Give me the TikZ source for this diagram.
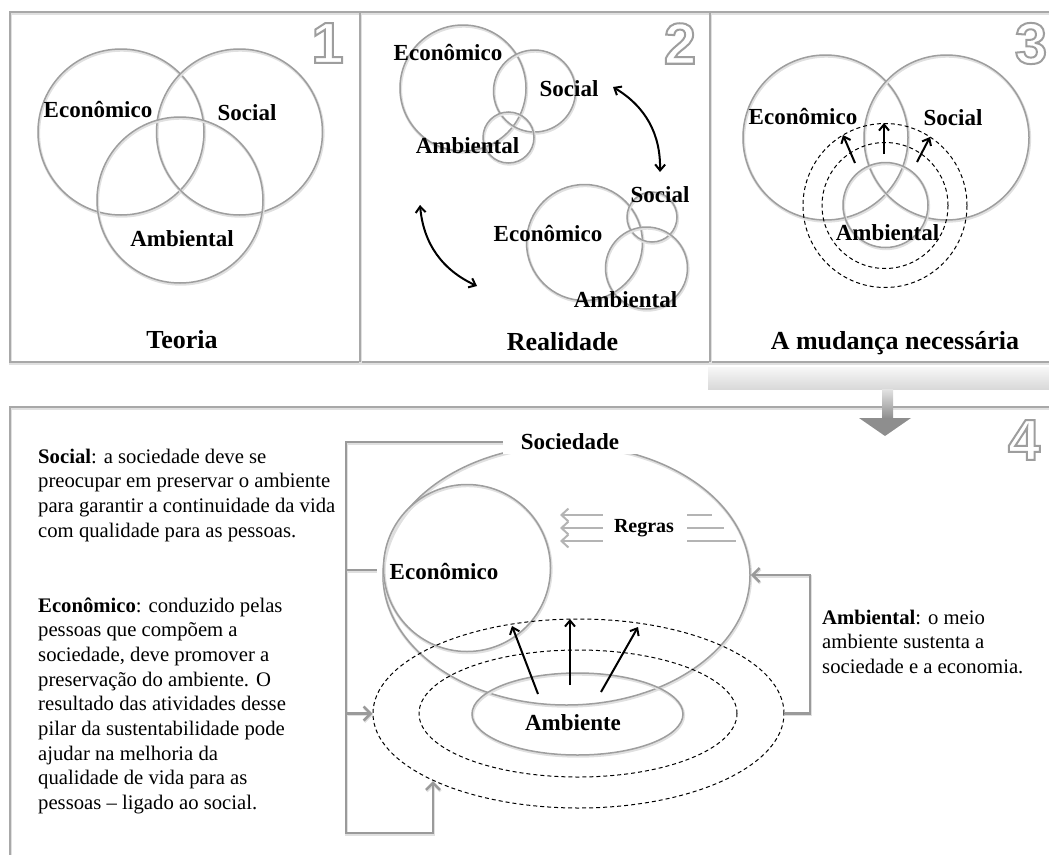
\documentclass[tikz,border=0pt]{standalone}
\usepackage{fontspec}
\setmainfont{Liberation Serif}
\newfontfamily\digitfont{Liberation Sans}
\usetikzlibrary{arrows.meta,shapes.geometric}

\definecolor{framegray}{HTML}{A8A8A8}
\definecolor{ringgray}{HTML}{9E9E9E}
\definecolor{conngray}{HTML}{9A9A9A}
\definecolor{rulegray}{HTML}{B4B4B4}
\definecolor{headgray}{HTML}{8E8E8E}

\tikzset{
  x=1pt, y=-1pt,
  softshadow/.style={preaction={draw=black!12, line width=2.8pt,
      transform canvas={shift={(0.7pt,-1.3pt)}}}},
  ring/.style={circle, draw=ringgray, line width=1.5pt, inner sep=0pt, softshadow},
  oval/.style={ellipse, draw=ringgray, line width=1.5pt, inner sep=0pt, softshadow},
  dashring/.style={draw=black, line width=1pt, dash pattern=on 4pt off 3pt, inner sep=0pt},
  framebox/.style={draw=framegray, line width=1.8pt, softshadow},
  lbl/.style={font=\bfseries\fontsize{23}{27}\selectfont, inner sep=0pt},
  smlbl/.style={font=\bfseries\fontsize{20}{24}\selectfont, inner sep=0pt},
  ttl/.style={font=\bfseries\fontsize{26}{30}\selectfont, inner sep=0pt},
  body/.style={font=\fontsize{20.7}{24.7}\selectfont, align=left, inner sep=0pt, anchor=base west},
  numeral/.style={font=\digitfont\bfseries\fontsize{58}{58}\selectfont, inner sep=0pt},
  blackarrow/.style={draw=black, line width=2pt, -{Straight Barb[length=6pt,width=10pt]}},
  twoway/.style={draw=black, line width=2pt, {Straight Barb[length=6pt,width=10pt]}-{Straight Barb[length=6pt,width=10pt]}},
  conn/.style={draw=conngray, line width=2.6pt, softshadow},
  connarrow/.style={conn, -{Straight Barb[length=7pt,width=14pt]}},
  rulearrow/.style={draw=rulegray, line width=2pt, {Straight Barb[length=7pt,width=13pt]}-},
  ruleline/.style={draw=rulegray, line width=2pt},
}

% hollow numerals: white glyph filled and stroked in gray
\newcommand{\outlinedigit}[1]{%
  \special{pdf:literal direct 2 Tr 2 w 0.62 G 1 g}#1%
  \special{pdf:literal direct 0 Tr 1 w 0 G 0 g}}

\begin{document}
\begin{tikzpicture}
\useasboundingbox (0,0) rectangle (1049,854);

% ---------- frames ----------
\draw[framebox] (10,12) rectangle (1070,362);
\draw[framebox] (360,12) -- (360,362);
\draw[framebox] (710,12) -- (710,362);
\draw[framebox] (10,407) rectangle (1070,880);

% gray band and the arrow leading down to panel 4
\shade[top color=gray!6, bottom color=gray!30] (708,367) rectangle (1060,389);
\shade[top color=gray!22, bottom color=black!45] (882,389) rectangle (893,419);
\fill[headgray] (859,418) -- (911,418) -- (885,436) -- cycle;

% panel numbers
\node[numeral] (n1) at (327.5,43) {\outlinedigit{1}};
\node[numeral] (n2) at (680,43.5) {\outlinedigit{2}};
\node[numeral] (n3) at (1031,43.5) {\outlinedigit{3}};
\node[numeral] (n4) at (1024,440) {\outlinedigit{4}};

% ---------- panel 1: theory ----------
\node[ring, minimum size=166pt] (t1eco) at (121,132) {};
\node[ring, minimum size=166pt] (t1soc) at (239.5,132) {};
\node[ring, minimum size=166pt] (t1amb) at (180,200) {};
\node[lbl] (t1ecol) at (98,110) {Econômico};
\node[lbl] (t1socl) at (247,113) {Social};
\node[lbl] (t1ambl) at (182,239) {Ambiental};
\node[ttl] (t1title) at (182,340) {Teoria};

% ---------- panel 2: reality ----------
\node[ring, minimum size=126pt] (r2eco) at (463,88) {};
\node[ring, minimum size=82pt] (r2soc) at (534.5,91) {};
\node[ring, minimum size=51pt] (r2amb) at (508.5,137.5) {};
\node[lbl] (r2ecol) at (448,53) {Econômico};
\node[lbl] (r2socl) at (569,89) {Social};
\node[lbl] (r2ambl) at (467.5,146) {Ambiental};

\node[ring, minimum size=116pt] (r3eco) at (584.5,242.5) {};
\node[ring, minimum size=50pt] (r3soc) at (652,217) {};
\node[ring, minimum size=82pt] (r3amb) at (646.5,268) {};
\node[lbl] (r3socl) at (660,195) {Social};
\node[lbl] (r3ecol) at (548,233) {Econômico};
\node[lbl] (r3ambl) at (625.5,300) {Ambiental};

\coordinate (swapA1) at (613,87);
\coordinate (swapA2) at (660,172);
\coordinate (swapB1) at (420,205);
\coordinate (swapB2) at (477,286);
\draw[twoway] (swapA1) to[bend left=30] (swapA2);
\draw[twoway] (swapB1) to[bend right=30] (swapB2);
\node[ttl] (r2title) at (562.5,342) {Realidade};

% ---------- panel 3: the needed change ----------
\node[ring, minimum size=165pt] (m3eco) at (825.5,137.5) {};
\node[ring, minimum size=165pt] (m3soc) at (946.5,137.5) {};
\node[ring, minimum size=85pt] (m3amb) at (885.5,205) {};
\node[circle, dashring, minimum size=164pt] (m3out) at (885,205.5) {};
\node[circle, dashring, minimum size=126pt] (m3in) at (885,205.5) {};
\coordinate (m3a1) at (855,163); \coordinate (m3b1) at (843,135);
\coordinate (m3a2) at (884,154); \coordinate (m3b2) at (884,123);
\coordinate (m3a3) at (917,162); \coordinate (m3b3) at (930,137);
\draw[blackarrow] (m3a1) -- (m3b1);
\draw[blackarrow] (m3a2) -- (m3b2);
\draw[blackarrow] (m3a3) -- (m3b3);
\node[lbl] (m3ecol) at (803,117) {Econômico};
\node[lbl] (m3socl) at (953,118) {Social};
\node[lbl] (m3ambl) at (887.5,233) {Ambiental};
\node[ttl] (m3title) at (895,343) {A mudança necessária};

% ---------- panel 4 ----------
\node[oval, minimum width=367pt, minimum height=260pt] (soc) at (566.5,575) {};
\node[ring, minimum size=167pt] (eco) at (467,568) {};
\node[ellipse, dashring, minimum width=411pt, minimum height=189pt] (envout) at (578.5,713.5) {};
\node[ellipse, dashring, minimum width=318pt, minimum height=127pt] (envin) at (578,713.5) {};
\node[oval, minimum width=211pt, minimum height=82pt] (amb) at (577.5,714) {};

\node[lbl, fill=white, inner xsep=18pt, inner ysep=4pt] (socl) at (570,442) {Sociedade};
\node[lbl] (ecol) at (444,571) {Econômico};
\node[lbl] (ambl) at (573,723) {Ambiente};
\node[smlbl] (regras) at (644,528) {Regras};

% rules pressing on the economy
\coordinate (rgL1) at (560,515); \coordinate (rgR1) at (603,515);
\coordinate (rgL2) at (560,528); \coordinate (rgR2) at (603,528);
\coordinate (rgL3) at (560,541); \coordinate (rgR3) at (603,541);
\draw[rulearrow] (rgL1) -- (rgR1);
\draw[rulearrow] (rgL2) -- (rgR2);
\draw[rulearrow] (rgL3) -- (rgR3);
\coordinate (rt1a) at (687,515); \coordinate (rt1b) at (712,515);
\coordinate (rt2a) at (687,528); \coordinate (rt2b) at (724,528);
\coordinate (rt3a) at (687,541); \coordinate (rt3b) at (736,541);
\draw[ruleline] (rt1a) -- (rt1b);
\draw[ruleline] (rt2a) -- (rt2b);
\draw[ruleline] (rt3a) -- (rt3b);

% environment pushing outwards
\coordinate (up1a) at (538,694); \coordinate (up1b) at (512,626);
\coordinate (up2a) at (570,685); \coordinate (up2b) at (570,619);
\coordinate (up3a) at (601,692); \coordinate (up3b) at (638,627);
\draw[blackarrow] (up1a) -- (up1b);
\draw[blackarrow] (up2a) -- (up2b);
\draw[blackarrow] (up3a) -- (up3b);

% feedback connectors
\coordinate (loopBL) at (346,833);
\coordinate (loopUp) at (433,781);
\coordinate (loopEco) at (346,570);
\coordinate (loopEnv) at (346,713.5);
\coordinate (loopR) at (810,713.5);
\draw[connarrow] (socl.west) -| (loopBL) -| (loopUp);
\draw[conn, shorten >=6pt] (loopEco) -- (eco.west |- loopEco);
\draw[connarrow] (loopEnv) -- (envout.west);
\draw[connarrow] (envout.east) -- (loopR) |- (soc.east);

% explanatory texts (anchored at the baseline of their last line)
\node[body] (txtsoc) at (38,537.1) {\textbf{Social}: a sociedade deve se\\
preocupar em preservar o ambiente\\
para garantir a continuidade da vida\\
com qualidade para as pessoas.};
\node[body] (txteco) at (38,809.6) {\textbf{Econômico}: conduzido pelas\\
pessoas que compõem a\\
sociedade, deve promover a\\
preservação do ambiente. O\\
resultado das atividades desse\\
pilar da sustentabilidade pode\\
ajudar na melhoria da\\
qualidade de vida para as\\
pessoas – ligado ao social.};
\node[body] (txtamb) at (822,673.4) {\textbf{Ambiental}: o meio\\
ambiente sustenta a\\
sociedade e a economia.};
\end{tikzpicture}
\end{document}
